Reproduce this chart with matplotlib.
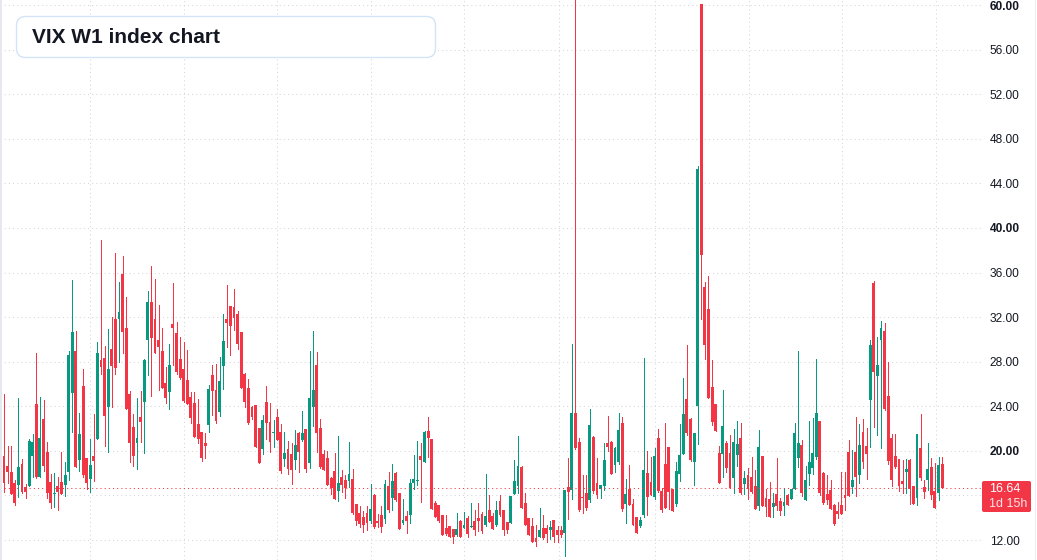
import matplotlib
matplotlib.use("Agg")
import matplotlib.pyplot as plt
from matplotlib.patches import FancyBboxPatch, Rectangle
import numpy as np

plt.rcParams['font.family'] = ['Liberation Sans', 'DejaVu Sans']

# weekly VIX candles (oldest first)
opens = [19.54, 18.64, 18.07, 17.09, 16.94, 18.82, 16.79, 16.85, 19.57, 24.20,
         17.68, 22.83, 19.93, 17.18, 16.10, 16.85, 17.18, 16.94, 18.13, 25.22,
         28.96, 19.18, 25.82, 19.36, 17.50, 19.54, 21.09, 28.15, 28.33, 23.96,
         29.14, 31.80, 31.86, 35.89, 31.02, 25.10, 22.14, 20.67, 23.04, 24.41,
         29.97, 33.35, 31.86, 29.94, 28.96, 26.09, 25.31, 31.38, 30.57, 28.24,
         27.34, 26.35, 24.86, 24.26, 22.41, 21.72, 20.67, 22.35, 26.80, 25.43,
         23.51, 27.61, 31.80, 32.99, 32.90, 32.27, 30.66, 26.92, 25.64, 23.96,
         24.11, 22.05, 20.19, 24.38, 22.59, 21.57, 23.04, 21.69, 19.30, 20.16,
         19.72, 19.15, 21.57, 20.97, 21.93, 18.94, 23.96, 27.70, 22.05, 19.72,
         19.36, 17.56, 18.22, 16.37, 17.65, 17.38, 17.32, 17.47, 15.23, 14.42,
         14.10, 14.42, 13.68, 16.07, 13.71, 14.25, 13.92, 16.85, 15.77, 18.04,
         16.22, 13.56, 14.16, 14.28, 17.15, 17.26, 19.54, 19.03, 21.78, 21.06,
         15.32, 15.14, 14.25, 13.11, 13.26, 12.99, 12.45, 13.71, 13.11, 13.98,
         13.20, 13.71, 14.01, 14.34, 13.35, 14.69, 14.16, 13.35, 15.50, 14.69,
         13.62, 13.50, 16.16, 16.85, 18.52, 15.29, 13.98, 13.29, 12.18, 12.30,
         13.05, 13.05, 12.90, 13.80, 12.90, 12.90, 12.66, 16.73, 16.49, 23.39,
         20.79, 15.89, 16.22, 15.59, 21.24, 17.12, 16.58, 16.85, 20.67, 20.79,
         18.70, 18.97, 22.50, 15.26, 16.58, 15.23, 14.07, 13.26, 14.25, 18.01,
         17.21, 15.89, 21.15, 16.40, 18.82, 20.34, 16.58, 15.26, 17.95, 19.72,
         24.65, 22.86, 19.03, 24.05, 60.13, 34.70, 32.72, 25.73, 24.20, 19.81,
         19.72, 20.67, 19.81, 17.56, 19.63, 21.15, 17.03, 17.83, 17.65, 16.85,
         15.05, 19.54, 15.77, 15.68, 14.96, 16.13, 15.50, 15.05, 16.04, 15.68,
         16.58, 19.36, 20.52, 15.62, 17.92, 18.46, 19.45, 22.68, 18.01, 16.13,
         16.49, 15.14, 14.60, 15.14, 16.04, 19.90, 16.79, 19.90, 17.83, 21.69,
         20.43, 24.56, 35.03, 26.71, 29.94, 30.75, 24.92, 21.15, 19.54, 19.27,
         17.29, 18.10, 19.18, 16.85, 15.77, 20.25, 16.76, 17.38, 18.55, 16.40,
         16.22, 18.82]
highs = [25.10, 20.43, 20.43, 17.38, 24.74, 19.24, 17.03, 21.03, 21.51, 28.75,
         24.80, 24.56, 20.79, 17.92, 17.98, 17.62, 19.90, 19.03, 28.96, 35.32,
         30.75, 23.40, 27.34, 19.36, 21.06, 23.34, 29.76, 38.91, 29.40, 30.93,
         32.04, 37.75, 35.18, 37.51, 33.80, 25.34, 23.31, 24.74, 25.34, 28.21,
         34.37, 36.58, 35.38, 33.08, 30.99, 27.49, 29.55, 35.09, 31.56, 30.21,
         29.73, 29.05, 25.28, 25.28, 24.65, 21.72, 21.57, 25.91, 27.70, 27.79,
         28.45, 32.27, 34.88, 32.99, 34.52, 32.54, 30.66, 27.01, 26.47, 24.05,
         24.11, 22.05, 23.22, 25.82, 24.29, 22.74, 23.75, 22.41, 21.69, 20.88,
         20.67, 21.87, 21.69, 23.57, 21.93, 28.96, 30.75, 28.87, 22.86, 20.05,
         19.99, 17.62, 19.81, 21.33, 18.28, 17.86, 20.79, 18.37, 15.23, 15.08,
         14.60, 15.08, 17.03, 16.16, 14.31, 15.05, 17.38, 18.10, 18.82, 18.07,
         16.22, 15.68, 14.60, 17.44, 19.63, 20.91, 20.70, 21.78, 23.04, 21.09,
         15.50, 15.14, 14.25, 14.25, 13.26, 12.99, 14.40, 13.83, 14.52, 14.16,
         15.29, 14.69, 15.29, 14.54, 17.92, 16.04, 14.39, 15.53, 16.01, 14.72,
         13.65, 15.98, 19.18, 21.33, 18.64, 16.19, 13.98, 13.98, 13.35, 14.84,
         14.25, 13.35, 13.71, 13.80, 13.26, 13.26, 16.49, 19.36, 29.58, 65.73,
         21.15, 17.83, 17.83, 23.75, 21.30, 19.36, 16.94, 20.67, 23.13, 20.85,
         20.37, 23.40, 23.01, 17.47, 18.73, 15.68, 14.07, 14.07, 28.33, 19.99,
         19.45, 20.23, 21.96, 16.64, 22.50, 20.34, 16.58, 19.00, 22.38, 26.53,
         29.49, 22.95, 21.60, 45.55, 60.13, 35.15, 35.68, 28.15, 24.20, 20.43,
         25.46, 20.88, 21.42, 21.96, 22.68, 22.50, 18.19, 18.46, 19.45, 18.28,
         21.87, 19.54, 16.61, 17.21, 16.22, 19.36, 15.77, 16.70, 16.13, 16.58,
         22.47, 28.96, 20.94, 18.64, 22.68, 22.95, 28.24, 22.68, 18.10, 17.83,
         17.38, 15.23, 15.41, 18.10, 18.10, 20.97, 20.08, 23.04, 22.41, 22.86,
         22.05, 29.94, 35.23, 30.21, 31.65, 31.47, 27.97, 21.51, 21.51, 19.27,
         19.21, 19.27, 19.27, 16.85, 21.51, 23.31, 17.38, 20.70, 19.36, 18.91,
         19.45, 19.45]
lows = [16.34, 17.09, 16.10, 15.14, 15.89, 16.19, 15.74, 16.85, 17.68, 17.53,
        17.68, 18.22, 15.74, 14.84, 14.93, 14.69, 16.16, 15.98, 17.38, 21.72,
        18.58, 18.22, 17.68, 16.55, 16.34, 17.32, 21.09, 26.89, 20.46, 19.93,
        23.90, 26.89, 28.00, 28.81, 23.78, 19.03, 18.67, 18.40, 20.82, 19.78,
        26.83, 24.95, 28.81, 25.49, 25.64, 24.29, 23.72, 27.73, 26.89, 26.47,
        24.41, 24.17, 22.47, 21.21, 20.73, 19.12, 19.39, 21.66, 23.19, 22.53,
        23.13, 25.58, 29.35, 28.60, 30.84, 29.17, 25.67, 23.96, 22.38, 22.89,
        20.31, 18.88, 19.75, 21.09, 19.93, 20.37, 21.00, 18.04, 18.67, 17.92,
        17.06, 18.34, 18.13, 20.88, 18.13, 18.49, 22.23, 19.93, 18.49, 18.31,
        16.94, 16.16, 15.71, 15.53, 16.34, 15.80, 16.76, 14.31, 13.38, 13.20,
        12.75, 12.93, 13.50, 13.11, 13.14, 12.75, 13.56, 14.54, 14.72, 15.53,
        13.02, 13.44, 12.66, 13.56, 16.61, 16.91, 15.44, 19.03, 19.48, 14.81,
        14.10, 13.65, 12.42, 12.42, 12.24, 11.76, 12.36, 12.30, 13.11, 12.30,
        13.20, 12.42, 12.84, 12.66, 13.26, 13.62, 13.02, 13.26, 14.16, 12.48,
        12.66, 13.50, 16.16, 16.19, 14.90, 13.38, 12.42, 11.85, 11.46, 12.30,
        12.09, 11.85, 12.09, 11.85, 11.85, 12.24, 10.60, 13.89, 15.71, 20.20,
        14.60, 14.42, 14.69, 15.44, 16.19, 15.74, 15.74, 16.49, 20.02, 17.95,
        18.07, 18.79, 14.60, 13.56, 15.14, 13.38, 12.66, 13.20, 14.04, 14.25,
        16.04, 15.71, 16.31, 14.51, 14.87, 14.81, 14.60, 15.05, 17.32, 19.72,
        21.42, 19.12, 16.94, 20.64, 31.85, 28.24, 24.74, 22.32, 21.78, 17.12,
        17.65, 18.10, 16.64, 16.19, 18.64, 16.10, 16.13, 15.68, 16.22, 14.78,
        14.69, 15.05, 14.19, 14.07, 14.07, 14.69, 14.25, 14.25, 15.14, 15.68,
        16.58, 18.55, 15.95, 15.62, 16.94, 17.92, 19.27, 16.04, 15.23, 15.23,
        14.78, 13.35, 13.98, 14.34, 14.69, 15.95, 16.22, 15.95, 17.09, 18.46,
        17.47, 20.34, 22.14, 21.42, 20.25, 23.66, 18.82, 16.85, 18.46, 16.40,
        16.22, 16.22, 15.23, 15.23, 15.14, 17.38, 15.77, 16.49, 15.68, 14.87,
        15.59, 16.64]
closes = [17.09, 18.13, 16.10, 15.35, 18.52, 16.28, 16.34, 20.88, 20.79, 17.62,
          21.12, 18.67, 16.19, 15.35, 16.22, 16.34, 16.16, 17.83, 28.57, 30.66,
          18.58, 21.51, 17.83, 17.15, 18.73, 19.12, 28.78, 27.55, 23.16, 27.34,
          27.61, 27.46, 32.45, 30.69, 23.78, 20.73, 19.57, 21.15, 22.62, 28.15,
          33.35, 30.09, 28.81, 29.35, 25.67, 24.71, 27.70, 31.05, 27.10, 26.53,
          24.50, 24.17, 22.98, 21.21, 21.03, 19.39, 20.46, 25.55, 25.40, 22.68,
          26.26, 29.85, 31.50, 31.23, 31.95, 29.58, 25.67, 24.41, 22.47, 23.01,
          20.37, 18.94, 22.77, 22.53, 20.76, 21.63, 21.00, 18.22, 19.81, 18.40,
          18.28, 20.52, 19.93, 21.60, 18.37, 24.74, 25.46, 21.63, 18.55, 18.31,
          16.94, 16.70, 15.71, 17.12, 16.97, 16.70, 17.92, 14.45, 13.74, 13.47,
          13.38, 13.50, 14.78, 13.20, 13.50, 13.20, 17.03, 14.72, 17.32, 15.62,
          13.02, 13.83, 13.68, 17.09, 17.47, 17.38, 19.21, 21.72, 21.18, 14.81,
          14.10, 13.74, 12.42, 12.54, 12.24, 12.24, 12.96, 12.30, 13.35, 12.57,
          13.26, 12.87, 13.74, 12.81, 14.16, 13.62, 13.02, 14.69, 14.25, 12.93,
          12.93, 15.98, 17.29, 18.64, 14.90, 13.38, 12.48, 11.85, 11.85, 12.90,
          12.15, 12.54, 13.14, 12.30, 12.42, 12.42, 16.49, 16.28, 23.39, 20.29,
          14.69, 15.80, 14.84, 22.32, 16.40, 16.04, 16.94, 19.18, 20.31, 17.95,
          20.22, 21.87, 14.78, 16.10, 15.17, 13.38, 12.66, 13.80, 18.28, 15.89,
          16.04, 19.54, 16.37, 14.69, 14.87, 16.34, 14.60, 18.19, 19.63, 23.31,
          21.60, 19.18, 21.60, 45.31, 37.56, 29.49, 24.74, 22.59, 21.78, 17.12,
          22.23, 18.49, 16.64, 20.79, 20.61, 16.19, 17.53, 16.58, 16.31, 14.78,
          20.34, 15.05, 14.99, 14.07, 15.32, 15.05, 14.60, 15.41, 15.14, 16.58,
          21.60, 20.67, 16.22, 17.38, 19.00, 19.81, 23.40, 16.22, 15.32, 15.59,
          14.78, 13.44, 14.34, 14.34, 15.77, 15.95, 17.38, 17.68, 20.52, 19.03,
          19.72, 29.49, 27.07, 27.70, 31.02, 23.75, 19.12, 17.41, 18.55, 16.85,
          17.03, 18.37, 16.58, 15.23, 21.51, 17.56, 16.34, 18.37, 16.04, 14.87,
          18.73, 16.64]

yticks = [12, 16, 20, 24, 28, 32, 36, 40, 44, 48, 52, 56, 60]
bold_ticks = [20, 40, 60]
hidden_ticks = [16]   # covered by the last-price label
vgrid = [23.9, 50.1, 76.0, 102.1, 128.0, 154.4, 181.1, 207.3, 233.2, 259.3]
last_price = 16.64
countdown = "1d 15h"

UP = '#089981'
DOWN = '#F23645'
GRID = '#d4d6dc'

o = np.array(opens); h = np.array(highs); l = np.array(lows); c = np.array(closes)
x = np.arange(len(o))
cols = np.where(c >= o, UP, DOWN)

W, H = 1037, 560
fig = plt.figure(figsize=(W / 100, H / 100), dpi=100)
fig.patch.set_facecolor('white')
ax = fig.add_axes([0, 0, 982 / W, 1])
ax.set_xlim(-1.11, 272.1)
ax.set_ylim(10.206, 60.449)

for v in yticks:
    ax.axhline(v, color=GRID, lw=0.75, ls=(0, (1, 3)), zorder=0)
for g in vgrid:
    ax.axvline(g, color=GRID, lw=0.75, ls=(0, (1, 3)), zorder=0)

ax.vlines(x, l, h, colors=cols, lw=0.7, antialiased=False, zorder=2)
body_lo = np.minimum(o, c)
body_h = np.maximum(np.abs(c - o), 0.1)
ax.bar(x, body_h, bottom=body_lo, width=0.8, color=cols, linewidth=0, zorder=3)

ax.axhline(last_price, color=DOWN, lw=0.75, ls=(0, (1, 3)), zorder=4)

for s in ax.spines.values():
    s.set_visible(False)
ax.set_xticks([])
ax.yaxis.tick_right()
ax.set_yticks(yticks)
ax.set_yticklabels(["" if v in hidden_ticks else f"{v:.2f}" for v in yticks])
ax.tick_params(axis='y', length=0, pad=5.5, labelsize=8.6, labelcolor='#131722')
for lab, v in zip(ax.get_yticklabels(), yticks):
    if v in bold_ticks:
        lab.set_fontweight('bold')

# price label on the axis
fig.patches.append(FancyBboxPatch((982, 48), 49, 31, boxstyle="round,pad=0,rounding_size=2",
                                  transform=None, facecolor=DOWN, edgecolor='none', zorder=10))
fig.text(989 / W, (560 - 488.5) / H, f"{last_price:.2f}", color='white', fontsize=9,
         va='center', ha='left', zorder=11)
fig.text(989 / W, (560 - 504) / H, countdown, color='#fde3e5', fontsize=9,
         va='center', ha='left', zorder=11)

# frame edges
fig.patches.append(Rectangle((0, 0), 2, H, transform=None, facecolor='#e6e8ee',
                             edgecolor='none', zorder=12))
fig.patches.append(Rectangle((1035, 0), 1, H, transform=None, facecolor='#eceef2',
                             edgecolor='none', zorder=12))

# title box
fig.patches.append(FancyBboxPatch((16.5, 560 - 57.5), 419, 41, boxstyle="round,pad=0,rounding_size=9",
                                  transform=None, facecolor='white', edgecolor='#d3e3f8',
                                  linewidth=1, zorder=12))
fig.text(32 / W, (560 - 37.5) / H, "VIX W1 index chart", fontsize=15, fontweight='bold',
         color='#131722', va='center', ha='left', zorder=13)

fig.savefig('out.png', dpi=100)
